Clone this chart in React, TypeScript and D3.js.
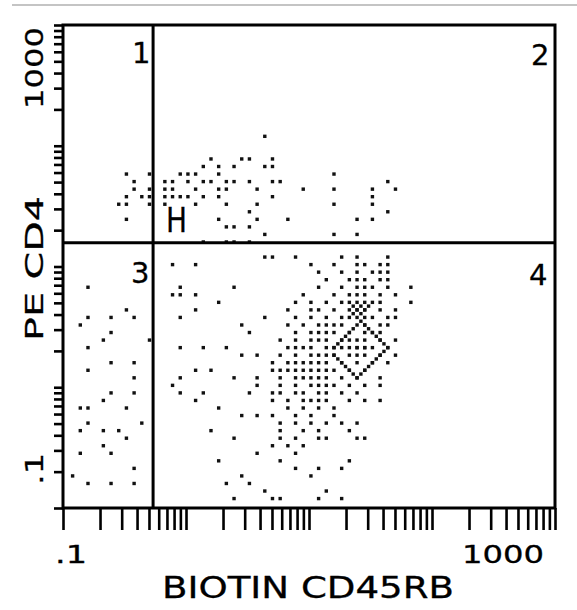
import React, { useEffect, useRef } from 'react';
import * as d3 from 'd3';

// 64 x 64 channel grid, 16 channels per decade (0.1 .. 1000)
// [xChannel, yChannel]
const upperEvents: [number, number][] = [
  [26, 49], [19, 46], [23, 46], [24, 46], [27, 46],
  [8, 44], [11, 44], [18, 45], [20, 45], [22, 45], [26, 45], [27, 45], [35, 44],
  [9, 43], [13, 43], [14, 43], [15, 44], [16, 44], [17, 44], [18, 43], [20, 44], [21, 43],
  [22, 43], [24, 43], [27, 43], [28, 43], [42, 43],
  [9, 42], [11, 42], [13, 42], [14, 42], [16, 43], [17, 42], [19, 43], [20, 42], [21, 42],
  [25, 42], [31, 42], [35, 42], [40, 42], [43, 42],
  [8, 41], [10, 41], [11, 41], [13, 41], [14, 41], [15, 41], [16, 41], [18, 41], [20, 41],
  [27, 41], [40, 41],
  [7, 40], [8, 40], [11, 40], [13, 40], [17, 40], [21, 40], [25, 40], [35, 40], [40, 40],
  [24, 39], [42, 39],
  [8, 38], [20, 38], [25, 38], [29, 38], [38, 38], [40, 38],
  [21, 37], [22, 37], [24, 37],
  [26, 36], [35, 36], [38, 36],
  [18, 35], [21, 35], [22, 35], [24, 35],
];

const lowerLeftEvents: [number, number][] = [
  [3, 29], [2, 24], [3, 25], [6, 25], [8, 26], [9, 25], [5, 22], [6, 23], [11, 22],
  [3, 21], [3, 18], [6, 19], [9, 19], [9, 17], [6, 15], [9, 15], [5, 14], [2, 13],
  [3, 13], [8, 13], [3, 11], [2, 10], [5, 10], [7, 10], [8, 9], [10, 11], [5, 8],
  [2, 7], [6, 7], [9, 5], [1, 4], [3, 3], [6, 3], [9, 3],
];

const lowerMidEvents: [number, number][] = [
  [14, 32], [17, 32], [14, 28], [15, 28], [17, 28], [15, 29], [17, 26], [15, 25],
  [15, 21], [17, 18], [14, 16], [15, 17], [15, 15], [17, 14],
  [20, 27], [22, 29], [23, 24], [18, 21], [21, 21], [23, 20], [19, 18], [22, 17],
  [24, 15], [18, 15], [20, 13], [23, 12], [19, 10], [22, 9], [25, 7], [20, 6],
  [23, 4], [26, 2], [22, 1],
];

// main CD45RB+ cluster: [yChannel, xChannels]
const clusterRows: [number, number[]][] = [
  [33, [26, 27, 30, 36, 38, 42]],
  [32, [32, 35, 38, 39, 41, 42]],
  [31, [33, 36, 38, 40, 41, 42]],
  [30, [34, 37, 38, 39, 41, 42]],
  [29, [33, 36, 38, 39, 40, 42, 45]],
  [28, [31, 35, 37, 38, 39, 41, 43]],
  [27, [30, 32, 34, 36, 38, 39, 41, 45]],
  [26, [29, 32, 33, 35, 37, 38, 39, 41, 43]],
  [25, [26, 30, 32, 34, 36, 37, 39, 40, 42, 43]],
  [24, [29, 31, 33, 34, 35, 36, 38, 39, 41, 42]],
  [23, [24, 30, 32, 33, 34, 35, 37, 39, 40, 41]],
  [22, [28, 30, 32, 33, 34, 36, 37, 39, 41, 43]],
  [21, [29, 30, 31, 32, 34, 35, 36, 38, 39, 40, 42]],
  [20, [25, 28, 30, 32, 33, 34, 35, 37, 39, 41, 43]],
  [19, [27, 29, 30, 31, 32, 33, 34, 36, 38, 40, 42]],
  [18, [27, 28, 29, 30, 31, 32, 33, 34, 35, 37, 39]],
  [17, [25, 28, 30, 31, 32, 33, 34, 36, 38, 41]],
  [16, [25, 28, 30, 32, 33, 34, 35, 37, 39, 41]],
  [15, [27, 28, 30, 31, 33, 34, 36, 38]],
  [14, [27, 29, 31, 32, 33, 34, 37, 39, 41]],
  [13, [29, 31, 33, 35]],
  [12, [25, 27, 30, 32, 35]],
  [11, [28, 30, 32, 34, 36, 38]],
  [10, [28, 31, 33, 37]],
  [9, [28, 30, 33, 34, 38, 39]],
  [8, [27, 29, 31]],
  [7, [30]],
  [6, [28, 37]],
  [5, [30, 33, 36]],
  [4, [32]],
  [3, [21, 24]],
  [2, [34]],
  [1, [27, 28, 33, 36]],
];

// overlapping events forming the bright core (diamond and cross)
const coreEvents: [number, number][] = [
  [38, 25], [38.5, 24.5], [39, 24], [39.5, 23.5], [40, 23], [40.5, 22.5], [41, 22], [41.5, 21.5],
  [42, 21], [41.5, 20.5], [41, 20], [40.5, 19.5], [40, 19], [39.5, 18.5], [39, 18], [38.5, 17.5],
  [38, 17], [37.5, 17.5], [37, 18], [36.5, 18.5], [36, 19], [35.5, 19.5], [35, 20], [35.5, 21.5],
  [35, 21], [36, 22], [36.5, 22.5], [37, 23], [37.5, 23.5], [38, 21], [38, 22], [38, 20],
  [37, 21], [39, 21], [37, 27], [37.5, 26.5], [38, 26], [38.5, 25.5], [39, 26], [39.5, 26.5],
  [40, 27], [37.5, 25.5], [38.5, 26.5],
];

const quadrantGate = { x: 0.54, y: 15.7 };
const quadrantLabels = ['1', '2', '3', '4'];
const xTickLabels = ['.1', '1000'];
const yTickLabels = ['.1', '1000'];
const xTitle = 'BIOTIN CD45RB';
const yTitle = 'PE CD4';
const gateLabel = 'H';

const App = () => {
  const ref = useRef<SVGSVGElement>(null);

  useEffect(() => {
    const svg = d3.select(ref.current);
    svg.selectAll('*').remove();

    const left = 63, right = 555, top = 25, bottom = 508;
    const font = '"DejaVu Sans", sans-serif';

    const xLog = d3.scaleLog().domain([0.1, 1000]).range([left, right]);
    const yLog = d3.scaleLog().domain([0.1, 1000]).range([bottom, top]);
    const xCh = d3.scaleLinear().domain([0, 64]).range([left, right]);
    const yCh = d3.scaleLinear().domain([0, 64]).range([bottom, top]);
    const binPos = 0.25;

    // scan edge line
    svg.append('line')
      .attr('x1', 12).attr('x2', 577).attr('y1', 5).attr('y2', 5)
      .attr('stroke', '#c4c4c4').attr('stroke-width', 2);

    // ticks
    const xAxis = d3.axisBottom(xLog).tickValues(xLog.ticks()).tickSize(22).tickFormat(() => '');
    const gx = svg.append('g').attr('transform', `translate(0,${bottom})`).call(xAxis);
    gx.select('.domain').remove();
    gx.selectAll('line').attr('stroke', '#000').attr('stroke-width', 2.6);

    const yAxis = d3.axisLeft(yLog).tickValues(yLog.ticks()).tickSize(9).tickFormat(() => '');
    const gy = svg.append('g').attr('transform', `translate(${left},0)`).call(yAxis);
    gy.select('.domain').remove();
    gy.selectAll('line').attr('stroke', '#000').attr('stroke-width', 2.6);

    // events
    const events: [number, number][] = [
      ...upperEvents,
      ...lowerLeftEvents,
      ...lowerMidEvents,
      ...clusterRows.flatMap(([r, cols]) => cols.map(c => [c, r] as [number, number])),
      ...coreEvents,
    ];
    svg.append('g')
      .selectAll('rect')
      .data(events)
      .enter()
      .append('rect')
      .attr('x', d => xCh(d[0] + binPos) - 1.7)
      .attr('y', d => yCh(d[1] + binPos) - 1.7)
      .attr('width', 3.4)
      .attr('height', 3.4)
      .attr('fill', '#111');

    // frame
    svg.append('rect')
      .attr('x', left).attr('y', top)
      .attr('width', right - left).attr('height', bottom - top)
      .attr('fill', 'none').attr('stroke', '#000').attr('stroke-width', 3);

    // quadrant lines
    svg.append('line')
      .attr('x1', xLog(quadrantGate.x)).attr('x2', xLog(quadrantGate.x))
      .attr('y1', top).attr('y2', bottom)
      .attr('stroke', '#000').attr('stroke-width', 3);
    svg.append('line')
      .attr('x1', left).attr('x2', right)
      .attr('y1', yLog(quadrantGate.y)).attr('y2', yLog(quadrantGate.y))
      .attr('stroke', '#000').attr('stroke-width', 3);

    const txt = (s: string, x: number, y: number, size: number, len?: number, rot = false) => {
      const t = svg.append('text')
        .attr('x', x).attr('y', y)
        .attr('font-family', font).attr('font-size', size)
        .attr('fill', '#000').attr('stroke', '#000').attr('stroke-width', 0.3)
        .text(s);
      if (len) t.attr('textLength', len).attr('lengthAdjust', 'spacingAndGlyphs');
      if (rot) t.attr('transform', `rotate(-90,${x},${y})`);
      return t;
    };

    // quadrant numbers
    const qPos: [number, number][] = [[132, 63], [531, 65], [131, 283], [529, 285]];
    quadrantLabels.forEach((q, i) => txt(q, qPos[i][0], qPos[i][1], 29));
    txt(gateLabel, 166, 232, 34, 21);

    // tick labels
    txt(xTickLabels[0], 55, 563, 25, 32);
    txt(xTickLabels[1], 462, 563, 25, 82);
    txt(yTickLabels[0], 43, 485, 25, 32, true);
    txt(yTickLabels[1], 43, 109, 25, 82, true);

    // titles
    txt(xTitle, 162, 598, 30, 292);
    txt(yTitle, 43, 341, 25, 145, true);
  }, []);

  return (
    <svg ref={ref} width={577} height={610}
      style={{ position: 'absolute', left: 0, top: 0, background: '#fff' }} />
  );
};

export default App;
